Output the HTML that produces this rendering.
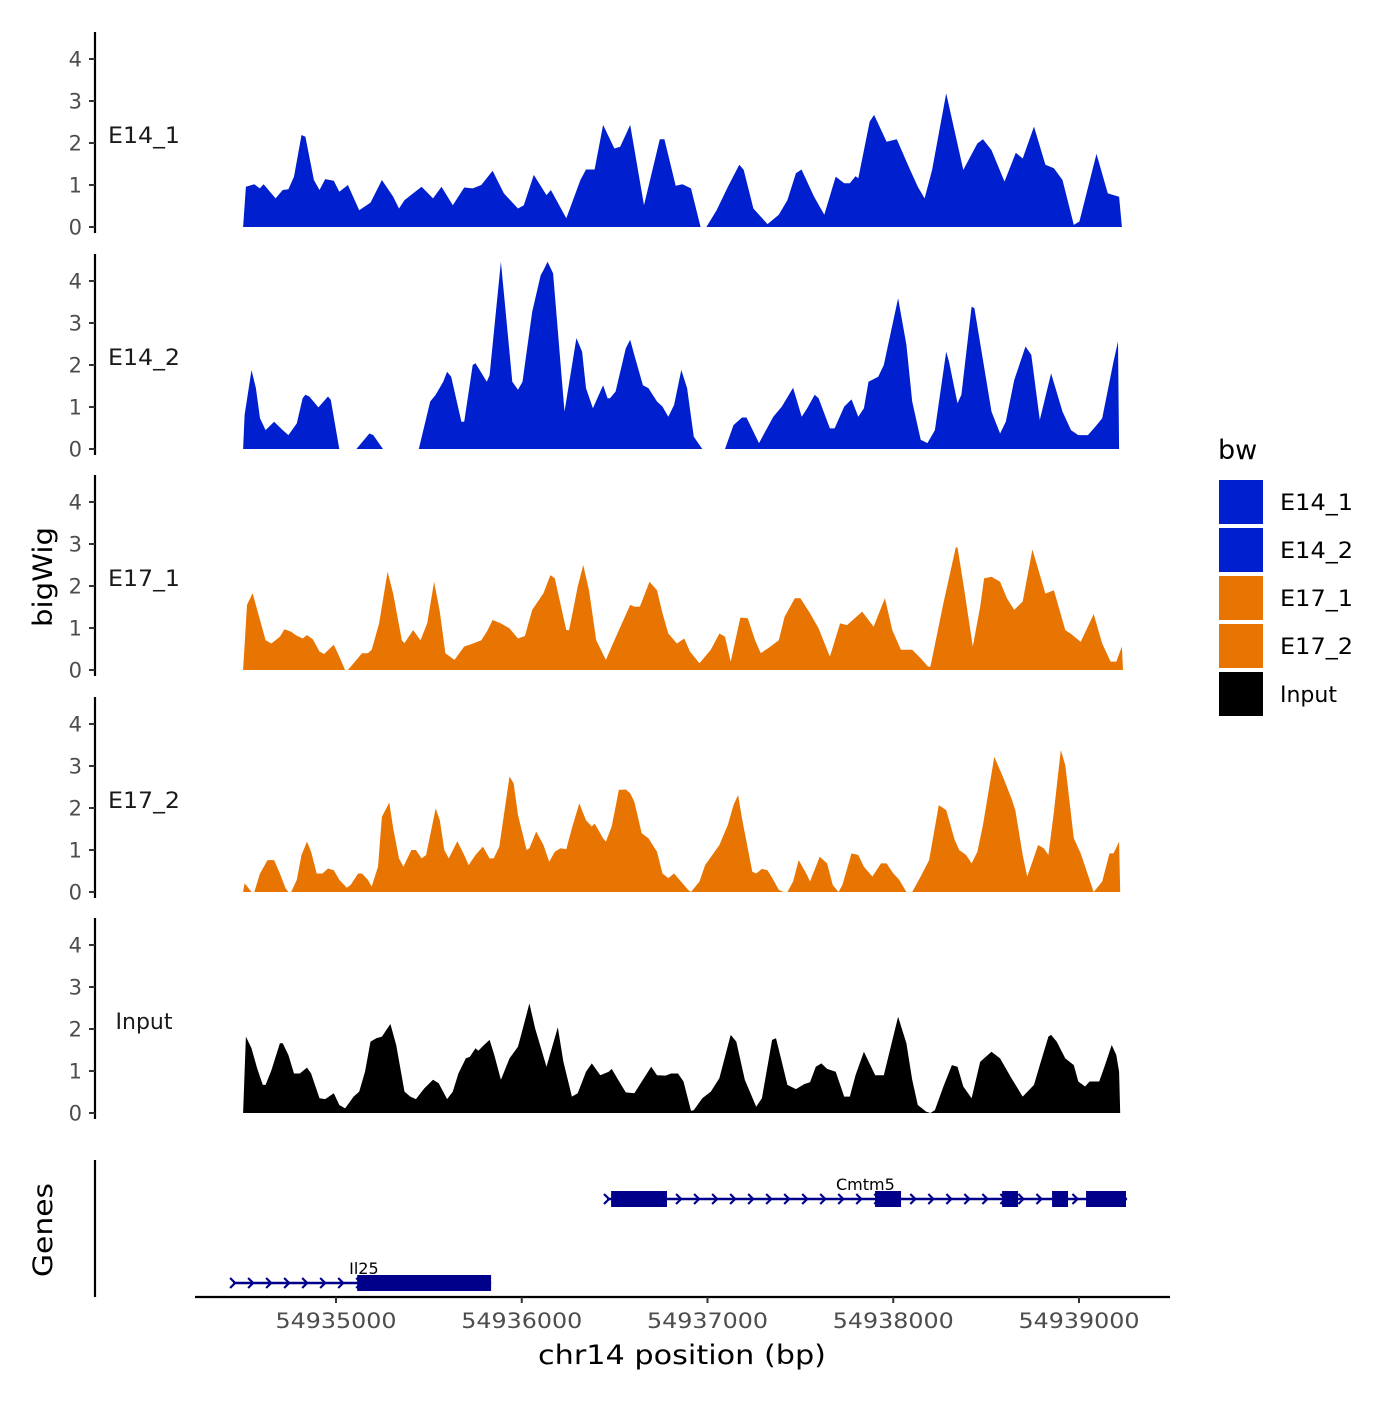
<!DOCTYPE html>
<html><head><meta charset="utf-8"><style>
html,body{margin:0;padding:0;background:#fff;}
svg text{font-family:"DejaVu Sans","Liberation Sans",sans-serif;}
</style></head><body>
<svg id="chart" width="1400" height="1400" viewBox="0 0 1400 1400" xmlns="http://www.w3.org/2000/svg">
<rect width="1400" height="1400" fill="#fff"/>
<g id="tracks"></g>
<g id="genes"></g>
<g id="axes"></g>
<text transform="translate(52,577) rotate(-90)" text-anchor="middle" font-size="27" textLength="100" lengthAdjust="spacingAndGlyphs" fill="#000">bigWig</text>
<text transform="translate(52,1230) rotate(-90)" text-anchor="middle" font-size="27" textLength="94" lengthAdjust="spacingAndGlyphs" fill="#000">Genes</text>
<text x="682" y="1364" text-anchor="middle" font-size="27" textLength="288" lengthAdjust="spacingAndGlyphs" fill="#000">chr14 position (bp)</text>
<g>
<text x="1218" y="459" font-size="27" fill="#000">bw</text>
<g id="legend-items"></g>
</g>
</svg>
<script>
const REGION_START = 54934500;
const trackNames = ["E14_1","E14_2","E17_1","E17_2","Input"];
const trackColors = ["#0020d0","#0020d0","#e87502","#e87502","#000000"];
const yTicks = [0,1,2,3,4];
const xTicks = [54935000,54936000,54937000,54938000,54939000];

// positions are bp offsets from REGION_START; values are coverage
const posE14_1 = [0,15,60,90,110,175,213,244,274,314,335,381,411,442,488,518,564,625,686,747,808,839,869,961,1022,1068,1129,1190,1236,1282,1343,1404,1480,1511,1565,1633,1657,1740,1816,1846,1892,1938,1999,2030,2084,2158,2243,2268,2329,2365,2411,2463,2494,2549,2610,2671,2695,2747,2823,2884,2930,2976,3006,3074,3129,3190,3236,3266,3297,3312,3373,3397,3464,3519,3587,3632,3669,3709,3785,3877,3953,3983,4029,4099,4160,4197,4258,4319,4365,4411,4472,4502,4594,4655,4716,4731];
const valE14_1 = [0,0.96,1.02,0.92,1.02,0.68,0.88,0.90,1.20,2.19,2.15,1.12,0.88,1.14,1.10,0.84,1.00,0.40,0.58,1.12,0.72,0.44,0.64,0.96,0.68,0.96,0.52,0.94,0.92,1.00,1.34,0.80,0.44,0.52,1.24,0.76,0.88,0.21,1.12,1.37,1.37,2.43,1.87,1.91,2.43,0.52,2.09,2.09,0.98,1.02,0.92,0,0,0.40,0.96,1.48,1.36,0.44,0.07,0.29,0.64,1.28,1.37,0.72,0.29,1.20,1.04,1.04,1.21,1.16,2.51,2.67,2.03,2.09,1.40,0.96,0.68,1.36,3.18,1.36,1.99,2.09,1.83,1.08,1.77,1.63,2.39,1.48,1.40,1.12,0.05,0.13,1.74,0.80,0.72,0];

const posE14_2 = [0,8,45,69,91,121,167,213,244,289,320,335,356,405,457,472,518,519,609,610,680,701,753,754,945,946,1007,1037,1077,1098,1120,1175,1190,1236,1251,1312,1327,1388,1449,1480,1504,1556,1602,1617,1639,1669,1730,1794,1825,1846,1883,1938,1962,1975,2005,2060,2084,2106,2152,2182,2228,2258,2289,2320,2359,2390,2426,2472,2473,2593,2594,2640,2686,2710,2777,2854,2900,2961,3007,3037,3077,3098,3159,3184,3236,3275,3312,3342,3367,3419,3449,3526,3571,3602,3648,3684,3724,3785,3800,3846,3867,3922,3937,4029,4075,4106,4151,4212,4243,4289,4350,4411,4457,4496,4548,4588,4625,4686,4710,4716];
const valE14_2 = [0,0.81,1.88,1.45,0.73,0.45,0.65,0.45,0.33,0.61,1.21,1.29,1.25,0.99,1.25,1.17,0,null,null,0,0.37,0.33,0,null,null,0,1.13,1.29,1.60,1.84,1.72,0.65,0.65,2.00,2.04,1.60,1.76,4.46,1.60,1.41,1.60,3.27,4.14,4.26,4.46,4.18,0.89,2.64,2.32,1.45,0.97,1.52,1.21,1.21,1.37,2.40,2.60,2.24,1.52,1.45,1.13,1.01,0.77,1.05,1.88,1.45,0.29,0,null,null,0,0.57,0.75,0.75,0.14,0.77,1.01,1.46,0.77,0.97,1.29,1.21,0.49,0.49,1.01,1.18,0.77,0.97,1.60,1.72,2.00,3.59,2.48,1.13,0.22,0.14,0.45,2.32,2.08,1.09,1.29,3.39,3.35,0.89,0.37,0.65,1.64,2.44,2.24,0.69,1.80,0.89,0.45,0.33,0.33,0.53,0.73,2.08,2.56,0];

const posE17_1 = [0,21,51,76,121,152,198,222,259,283,320,344,375,411,436,488,518,549,564,640,671,692,732,778,808,854,869,915,955,991,1028,1059,1089,1138,1190,1220,1282,1312,1343,1388,1434,1480,1517,1556,1587,1617,1654,1678,1740,1755,1801,1831,1862,1901,1953,1999,2084,2106,2136,2188,2228,2258,2289,2335,2375,2405,2457,2518,2564,2594,2625,2677,2717,2756,2787,2839,2884,2915,2970,3000,3052,3098,3159,3214,3251,3333,3394,3455,3495,3541,3602,3648,3687,3700,3770,3837,3846,3877,3928,3968,3989,4029,4075,4112,4151,4197,4249,4319,4365,4426,4457,4509,4579,4625,4670,4701,4731,4737];
const valE17_1 = [0,1.55,1.83,1.43,0.71,0.63,0.79,0.97,0.91,0.83,0.75,0.83,0.73,0.44,0.38,0.60,0.32,0,0,0.40,0.40,0.48,1.11,2.34,1.82,0.71,0.64,0.95,0.71,1.11,2.10,1.39,0.40,0.24,0.56,0.60,0.71,0.91,1.19,1.11,0.99,0.75,0.81,1.43,1.63,1.83,2.26,2.18,0.95,0.95,1.98,2.50,1.90,0.71,0.24,0.71,1.55,1.51,1.51,2.10,1.90,1.35,0.87,0.63,0.75,0.44,0.16,0.48,0.87,0.79,0.20,1.25,1.23,0.71,0.40,0.56,0.71,1.27,1.71,1.71,1.35,0.99,0.32,1.11,1.07,1.39,1.03,1.71,0.95,0.48,0.48,0.28,0.08,0.08,1.59,2.92,2.92,2.06,0.56,1.51,2.18,2.22,2.10,1.71,1.43,1.63,2.87,1.82,1.90,0.95,0.86,0.67,1.33,0.63,0.20,0.20,0.56,0];

const posE17_2 = [0,8,45,60,91,131,167,198,228,244,259,289,314,344,366,396,427,457,488,518,558,579,619,640,671,692,726,747,787,808,839,863,906,930,961,985,1037,1059,1083,1107,1153,1190,1214,1251,1291,1327,1349,1379,1434,1456,1480,1526,1541,1578,1617,1648,1678,1709,1740,1770,1810,1846,1877,1892,1938,1953,1984,2023,2060,2084,2106,2146,2182,2228,2258,2289,2320,2396,2411,2457,2487,2564,2610,2640,2665,2686,2741,2762,2793,2823,2854,2884,2909,2930,2961,2991,3037,3052,3104,3144,3174,3205,3226,3275,3312,3342,3388,3434,3464,3501,3532,3571,3602,3648,3693,3745,3785,3831,3855,3892,3922,3953,3983,4044,4090,4136,4157,4197,4221,4249,4280,4310,4335,4365,4402,4426,4472,4509,4579,4625,4664,4686,4716,4722];
const valE17_2 = [0,0.21,0,0,0.44,0.76,0.76,0.44,0.09,0,0,0.29,0.88,1.20,0.96,0.44,0.44,0.56,0.52,0.29,0.10,0.17,0.44,0.44,0.29,0.13,0.60,1.79,2.13,1.52,0.80,0.60,1.00,1.00,0.80,0.88,1.99,1.71,1.00,0.80,1.21,0.88,0.64,0.88,1.08,0.80,0.80,1.08,2.75,2.59,1.83,1.00,1.04,1.44,1.12,0.72,0.96,1.04,1.02,1.52,2.11,1.71,1.56,1.63,1.28,1.20,1.56,2.43,2.44,2.35,2.15,1.40,1.28,0.96,0.44,0.33,0.44,0.05,0,0.25,0.64,1.12,1.60,2.07,2.31,1.75,0.48,0.44,0.55,0.52,0.29,0.05,0,0,0.25,0.76,0.40,0.25,0.84,0.68,0.17,0,0.17,0.92,0.88,0.60,0.37,0.68,0.68,0.44,0.29,0,0,0.37,0.76,2.07,1.95,1.24,1.00,0.88,0.68,0.96,1.60,3.22,2.75,2.23,1.95,0.88,0.37,0.72,1.12,1.04,0.88,1.91,3.38,3.02,1.28,0.92,0,0.25,0.92,0.92,1.20,0];

const posInput = [0,15,45,76,106,121,152,198,213,244,274,305,344,366,411,442,488,518,549,595,625,656,686,717,747,793,824,869,900,930,976,1022,1053,1098,1129,1159,1199,1221,1251,1266,1297,1327,1352,1388,1434,1480,1511,1541,1572,1633,1694,1724,1770,1801,1846,1877,1923,1968,1984,2030,2060,2106,2152,2197,2228,2274,2304,2341,2371,2411,2426,2472,2518,2564,2625,2655,2701,2762,2793,2848,2869,2900,2930,2976,3022,3052,3083,3113,3144,3190,3236,3266,3297,3342,3403,3449,3526,3571,3602,3632,3678,3700,3724,3770,3816,3846,3877,3922,3968,4029,4075,4136,4197,4258,4289,4335,4350,4380,4426,4472,4496,4533,4557,4609,4640,4676,4701,4716,4722];
const valInput = [0,1.82,1.54,1.06,0.67,0.67,1.02,1.66,1.66,1.38,0.94,0.94,1.08,0.94,0.35,0.33,0.47,0.19,0.11,0.39,0.51,0.98,1.70,1.78,1.82,2.12,1.62,0.51,0.39,0.33,0.59,0.79,0.71,0.33,0.51,0.94,1.30,1.34,1.54,1.48,1.62,1.74,1.38,0.79,1.30,1.58,2.10,2.61,2.02,1.10,2.04,1.22,0.39,0.47,0.98,1.18,0.90,0.98,1.05,0.71,0.49,0.47,0.79,1.10,0.90,0.89,0.94,0.94,0.75,0.05,0.07,0.35,0.51,0.83,1.86,1.70,0.79,0.15,0.35,1.74,1.78,1.22,0.67,0.57,0.69,0.73,1.10,1.18,1.05,0.98,0.39,0.39,0.90,1.46,0.90,0.90,2.29,1.66,0.79,0.19,0.03,0,0.07,0.63,1.14,1.10,0.63,0.35,1.22,1.46,1.30,0.83,0.39,0.67,1.14,1.82,1.86,1.70,1.30,1.14,0.75,0.63,0.75,0.75,1.14,1.62,1.38,0.98,0];

const trackPos = [posE14_1,posE14_2,posE17_1,posE17_2,posInput];
const trackVal = [valE14_1,valE14_2,valE17_1,valE17_2,valInput];

// genes
const geneNames = ["Cmtm5","Il25"];
const geneStart = [54936459,54934446];
const geneEnd = [54939259,54935835];
const geneExonStarts = [[54936481,54937902,54938586,54938855,54939038],[54935114]];
const geneExonEnds = [[54936782,54938042,54938672,54938941,54939253],[54935835]];
const geneLabelPos = [54937850,54935150];

const NS="http://www.w3.org/2000/svg";
const panelBase=[227,449,670,892,1113];
const unitPx=42;
const xs = bp => 336 + (bp-54935000)*0.18575;
const ys = (p,v) => panelBase[p] - v*unitPx;
function mk(tag,attrs,parent){const e=document.createElementNS(NS,tag);for(const k in attrs)e.setAttribute(k,attrs[k]);parent.appendChild(e);return e;}

const tracks=document.getElementById('tracks');
const axes=document.getElementById('axes');
for(let p=0;p<5;p++){
  const g=mk('g',{},tracks);
  
  
  const pos=trackPos[p], val=trackVal[p];
  let seg=[];
  const flush=()=>{
    if(seg.length<2){seg=[];return;}
    let d='M'+xs(REGION_START+seg[0][0]).toFixed(1)+','+panelBase[p];
    for(const s of seg) d+='L'+xs(REGION_START+s[0]).toFixed(1)+','+ys(p,s[1]).toFixed(1);
    d+='L'+xs(REGION_START+seg[seg.length-1][0]).toFixed(1)+','+panelBase[p]+'Z';
    const a=mk('path',{d:d,fill:trackColors[p]},g);
    
    
    seg=[];
  };
  for(let i=0;i<pos.length;i++){ if(val[i]===null) flush(); else seg.push([pos[i],val[i]]); }
  flush();
  const ax=mk('g',{},axes);
  
  
  mk('line',{x1:95,x2:95,y1:panelBase[p]-195,y2:panelBase[p]+6,stroke:'#000','stroke-width':2.2},ax);
  for(const t of yTicks){
    const y=ys(p,t);
    mk('line',{x1:89,x2:95,y1:y,y2:y,stroke:'#333','stroke-width':2},ax);
    const tx=mk('text',{x:82,y:y+7.5,'text-anchor':'end','font-size':21,fill:'#4d4d4d'},ax);
    tx.textContent=t;
    
    
  }
  const lb=mk('text',{x:144,y:panelBase[p]-84,'text-anchor':'middle','font-size':22,fill:'#1a1a1a'},ax);
  lb.textContent=trackNames[p];
  if(p<4){ lb.setAttribute('textLength','72'); lb.setAttribute('lengthAdjust','spacingAndGlyphs'); }
  
  
}

const genes=document.getElementById('genes');
const geneY=[1199,1283];
for(let i=0;i<geneNames.length;i++){
  const g=mk('g',{},genes);
  
  
  const y=geneY[i];
  mk('line',{x1:xs(geneStart[i]),x2:xs(geneEnd[i]),y1:y,y2:y,stroke:'#00008b','stroke-width':2.5},g);
  for(let bp=geneStart[i]; bp<=geneEnd[i]; bp+=97){
    const x=xs(bp);
    mk('polyline',{points:(x-3)+','+(y-5)+' '+(x+2)+','+y+' '+(x-3)+','+(y+5),fill:'none',stroke:'#00008b','stroke-width':2.2},g);
  }
  for(let k=0;k<geneExonStarts[i].length;k++){
    const x1=xs(geneExonStarts[i][k]), x2=xs(geneExonEnds[i][k]);
    const r=mk('rect',{x:x1,y:y-8,width:x2-x1,height:16,fill:'#00008b'},g);
    
    
  }
  const t=mk('text',{x:xs(geneLabelPos[i]),y:y-9,'text-anchor':'middle','font-size':16,fill:'#000'},g);
  t.textContent=geneNames[i];
  
  
}
const gl=mk('line',{x1:95,x2:95,y1:1160,y2:1297,stroke:'#000','stroke-width':2.2},axes);


const xa=mk('g',{},axes);


mk('line',{x1:195,x2:1170,y1:1297,y2:1297,stroke:'#000','stroke-width':2.2},xa);
for(const t of xTicks){
  const x=xs(t);
  mk('line',{x1:x,x2:x,y1:1297,y2:1303,stroke:'#333','stroke-width':2},xa);
  const tx=mk('text',{x:x,y:1328,'text-anchor':'middle','font-size':21,fill:'#4d4d4d',textLength:121,lengthAdjust:'spacingAndGlyphs'},xa);
  tx.textContent=t;
  
  
}
const li=document.getElementById('legend-items');
for(let i=0;i<5;i++){
  const g=mk('g',{},li);
  
  
  const y=480+i*48;
  mk('rect',{x:1219,y:y,width:44,height:44,fill:trackColors[i]},g);
  const t=mk('text',{x:1280,y:y+30,'font-size':22,fill:'#000'},g);
  t.textContent=trackNames[i];
  if(i<4){ t.setAttribute('textLength','73'); t.setAttribute('lengthAdjust','spacingAndGlyphs'); }
}
</script>
</body></html>
